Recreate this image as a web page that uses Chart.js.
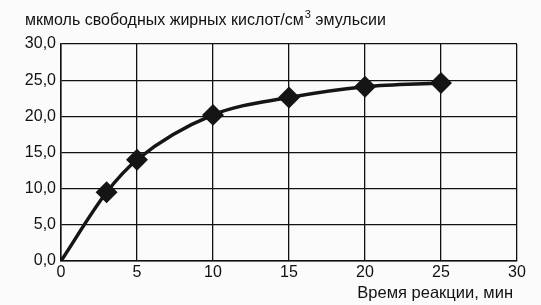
<!DOCTYPE html>
<html>
<head>
<meta charset="utf-8">
<script src="https://cdn.jsdelivr.net/npm/chart.js@4/dist/chart.umd.min.js"></script>
<style>
  html, body { margin: 0; padding: 0; background: #fbfbfb; }
  #wrap { width: 541px; height: 305px; }
</style>
</head>
<body>
<div id="wrap"><canvas id="myChart" width="541" height="305"></canvas></div>
<script>
// Данные графика
const vremya = [0, 3, 5, 10, 15, 20, 25];
const kisloty = [0, 9.5, 14.0, 20.2, 22.6, 24.1, 24.6];
const xTicks = [0, 5, 10, 15, 20, 25, 30];
const yTicks = [0, 5, 10, 15, 20, 25, 30];

const yTitleA = 'мкмоль свободных жирных кислот/см';
const yTitleSup = '3';
const yTitleB = ' эмульсии';
const xTitle = 'Время реакции, мин';

const puntos = vremya.map((x, i) => ({ x: x, y: kisloty[i] }));

const fuente = '"Liberation Sans", Arial, sans-serif';

// Подписи осей рисуем сами, чтобы поставить их как на картинке
const podpisi = {
    id: 'podpisi',
    afterDraw(chart) {
        const ctx = chart.ctx;
        const area = chart.chartArea;
        ctx.save();
        ctx.fillStyle = '#111';
        ctx.textBaseline = 'alphabetic';
        ctx.textAlign = 'left';
        ctx.font = '16px ' + fuente;
        let x = 25;
        ctx.fillText(yTitleA, x, 25);
        x += ctx.measureText(yTitleA).width + 1;
        ctx.font = '11px ' + fuente;
        ctx.fillText(yTitleSup, x, 18);
        x += ctx.measureText(yTitleSup).width;
        ctx.font = '16px ' + fuente;
        ctx.fillText(yTitleB, x, 25);
        ctx.font = '16.5px ' + fuente;
        ctx.textAlign = 'right';
        ctx.fillText(xTitle, area.right - 4, 298);
        ctx.restore();
    }
};

const ctx = document.getElementById('myChart').getContext('2d');
const myChart = new Chart(ctx, {
    type: 'line',
    data: {
        datasets: [{
            data: puntos,
            borderColor: '#151515',
            backgroundColor: '#151515',
            borderWidth: 3.5,
            pointStyle: 'rectRot',
            pointRadius: [0, 8.5, 8.5, 8.5, 8.5, 8.5, 8.5],
            pointHoverRadius: 8.5,
            cubicInterpolationMode: 'monotone',
            fill: false
        }]
    },
    options: {
        responsive: false,
        animation: false,
        layout: { padding: { top: 44, right: 24, left: 0, bottom: 0 } },
        plugins: { legend: { display: false }, tooltip: { enabled: false } },
        scales: {
            x: {
                type: 'linear',
                min: 0,
                max: 30,
                afterBuildTicks(axis) { axis.ticks = xTicks.map(v => ({ value: v })); },
                afterFit(axis) { axis.height = 44; },
                grid: { color: '#111', lineWidth: 1.3, drawTicks: false },
                border: { color: '#111', width: 1.5 },
                ticks: {
                    color: '#111',
                    padding: 2,
                    maxRotation: 0,
                    font: { family: fuente, size: 16 }
                }
            },
            y: {
                min: 0,
                max: 30,
                afterBuildTicks(axis) { axis.ticks = yTicks.map(v => ({ value: v })); },
                afterFit(axis) { axis.width = 61; },
                grid: { color: '#111', lineWidth: 1.3, drawTicks: false },
                border: { color: '#111', width: 1.5 },
                ticks: {
                    color: '#111',
                    padding: 5,
                    font: { family: fuente, size: 16 },
                    callback: v => v.toFixed(1).replace('.', ',')
                }
            }
        }
    },
    plugins: [podpisi]
});
</script>
</body>
</html>
